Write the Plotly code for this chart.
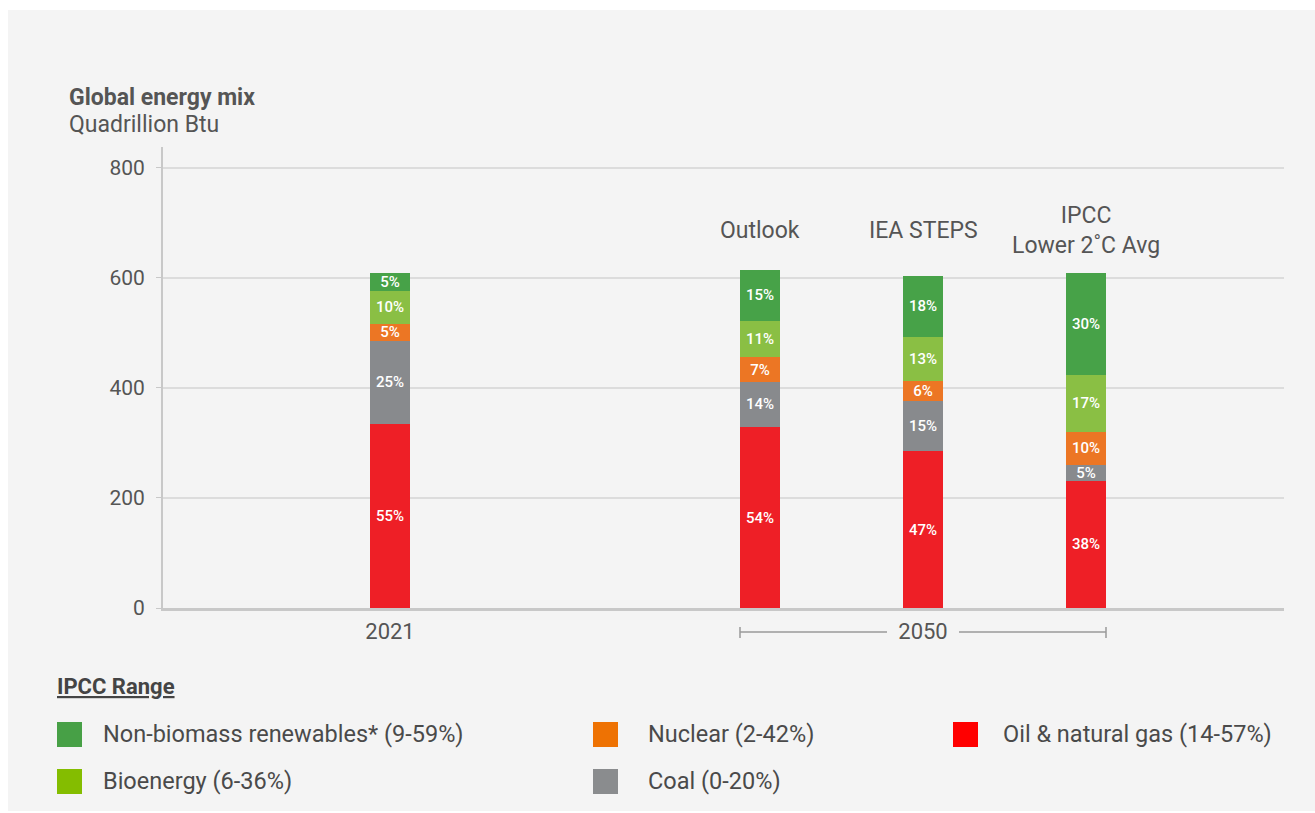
import plotly.graph_objects as go

# ---------------- data ----------------
scenarios = ["2021", "Outlook", "IEA STEPS", "IPCC Lower 2˚C Avg"]
scenario_titles = ["", "Outlook", "IEA STEPS", "IPCC<br>Lower 2˚C Avg"]
oil_gas = [335, 329, 285, 231]
coal = [151, 82, 91, 29]
nuclear = [31, 45, 37, 60]
bioenergy = [60, 66, 80, 104]
renewables = [32, 93, 111, 185]

oil_gas_pct = ["55%", "54%", "47%", "38%"]
coal_pct = ["25%", "14%", "15%", "5%"]
nuclear_pct = ["5%", "7%", "6%", "10%"]
bioenergy_pct = ["10%", "11%", "13%", "17%"]
renewables_pct = ["5%", "15%", "18%", "30%"]

y_ticks = [0, 200, 400, 600, 800]
year_labels = ["2021", "2050"]

legend_labels = [
    "Non-biomass renewables* (9-59%)",
    "Bioenergy (6-36%)",
    "Nuclear (2-42%)",
    "Coal (0-20%)",
    "Oil & natural gas (14-57%)",
]

# ---------------- layout constants ----------------
W, H = 1315, 813
ML, MR, MT, MB = 163, 31, 147, 205
PW, PH = W - ML - MR, H - MT - MB
UNIT = 163.0
x_pos = [(390 - ML) / UNIT, (760 - ML) / UNIT, (923 - ML) / UNIT, (1086 - ML) / UNIT]
bar_w = 40 / UNIT
year_pos = [x_pos[0], x_pos[2]]

TXT = "#555555"
FONT = "Roboto, 'Noto Sans', sans-serif"
FS = 23

def px_x(px):
    return (px - ML) / PW

def px_y(py):
    return (H - MB - py) / PH

series = [
    ("Oil & natural gas", oil_gas, oil_gas_pct, "#ee1f26"),
    ("Coal", coal, coal_pct, "#888a8d"),
    ("Nuclear", nuclear, nuclear_pct, "#ec7624"),
    ("Bioenergy", bioenergy, bioenergy_pct, "#8abf44"),
    ("Non-biomass renewables", renewables, renewables_pct, "#47a248"),
]

fig = go.Figure()
for name, vals, pct, col in series:
    fig.add_trace(go.Bar(
        x=x_pos, y=vals, name=name, width=bar_w,
        marker=dict(color=col, line=dict(width=0)),
        text=pct, textposition="inside", insidetextanchor="middle",
        textangle=0, constraintext="none",
        textfont=dict(color="white", size=15, family=FONT, weight=500),
        showlegend=False, hoverinfo="skip",
    ))

annotations = []
shapes = []

# panel background
shapes.append(dict(type="rect", xref="paper", yref="paper", layer="below",
                   x0=px_x(8), x1=px_x(1316), y0=px_y(811), y1=px_y(10),
                   fillcolor="#f4f4f4", line=dict(width=0)))

# title
annotations.append(dict(text="<b>Global energy mix</b>", xref="paper", yref="paper",
                        x=px_x(67), y=px_y(98), xanchor="left", yanchor="middle",
                        showarrow=False, font=dict(size=23, color=TXT, family=FONT)))
annotations.append(dict(text="Quadrillion Btu", xref="paper", yref="paper",
                        x=px_x(67), y=px_y(124), xanchor="left", yanchor="middle",
                        showarrow=False, font=dict(size=FS, color=TXT, family=FONT)))

# scenario titles
for xp, t in zip(x_pos, scenario_titles):
    if t:
        annotations.append(dict(text=t, x=xp, y=px_y(230), xref="x", yref="paper",
                                xanchor="center", yanchor="middle", showarrow=False,
                                font=dict(size=FS, color=TXT, family=FONT)))

# 2050 bracket
yb = px_y(632)
gray = "#9a9a9a"
left = x_pos[1] - bar_w / 2
right = x_pos[3] + bar_w / 2
shapes.append(dict(type="line", xref="x", yref="paper", x0=left, x1=(887 - ML) / UNIT,
                   y0=yb, y1=yb, line=dict(color=gray, width=1.5)))
shapes.append(dict(type="line", xref="x", yref="paper", x0=(959 - ML) / UNIT, x1=right,
                   y0=yb, y1=yb, line=dict(color=gray, width=1.5)))
for xx in (left, right):
    shapes.append(dict(type="line", xref="x", yref="paper", x0=xx, x1=xx,
                       y0=px_y(627), y1=px_y(638), line=dict(color=gray, width=1.5)))

# custom legend
annotations.append(dict(text="<b><u>IPCC Range</u></b>", xref="paper", yref="paper",
                        x=px_x(55), y=px_y(686), xanchor="left", yanchor="middle",
                        showarrow=False, font=dict(size=22, color="#444444", family=FONT)))
legend_colors = ["#47a046", "#84bd00", "#ee7203", "#8a8c8e", "#ff0000"]
legend_sq_x = [57, 57, 593, 593, 953]
legend_txt_x = [101, 101, 646, 646, 1001]
legend_rows = [734.5, 781.5, 734.5, 781.5, 734.5]
for lab, col, sx, tx, cy in zip(legend_labels, legend_colors, legend_sq_x, legend_txt_x, legend_rows):
    shapes.append(dict(type="rect", xref="paper", yref="paper",
                       x0=px_x(sx), x1=px_x(sx + 25), y0=px_y(cy + 12.5), y1=px_y(cy - 12.5),
                       fillcolor=col, line=dict(width=0)))
    annotations.append(dict(text=lab, xref="paper", yref="paper",
                            x=px_x(tx), y=px_y(cy - 1), xanchor="left", yanchor="middle",
                            showarrow=False, font=dict(size=23.5, color="#4a4a4a", family=FONT)))

fig.update_layout(
    width=W, height=H, barmode="stack",
    margin=dict(l=ML, r=MR, t=MT, b=MB, pad=0),
    paper_bgcolor="white", plot_bgcolor="rgba(0,0,0,0)",
    font=dict(family=FONT, color=TXT, size=FS),
    shapes=shapes, annotations=annotations, showlegend=False,
    xaxis=dict(range=[0, PW / UNIT], tickvals=year_pos, ticktext=year_labels,
               showgrid=False, zeroline=False, showline=True, linecolor="#c8c8c8",
               linewidth=3, ticks="", ticklabelstandoff=2,
               tickfont=dict(size=22, color=TXT, family=FONT), fixedrange=True),
    yaxis=dict(range=[0, 838], tickvals=y_ticks, showgrid=True, gridcolor="#dcdcdc",
               gridwidth=1.5, zeroline=False, showline=True, linecolor="#c8c8c8",
               linewidth=2, ticks="outside", ticklen=5, tickcolor="#c8c8c8",
               ticklabelstandoff=7,
               tickfont=dict(size=21, color=TXT, family=FONT), fixedrange=True),
)

fig.write_html("out.html")
